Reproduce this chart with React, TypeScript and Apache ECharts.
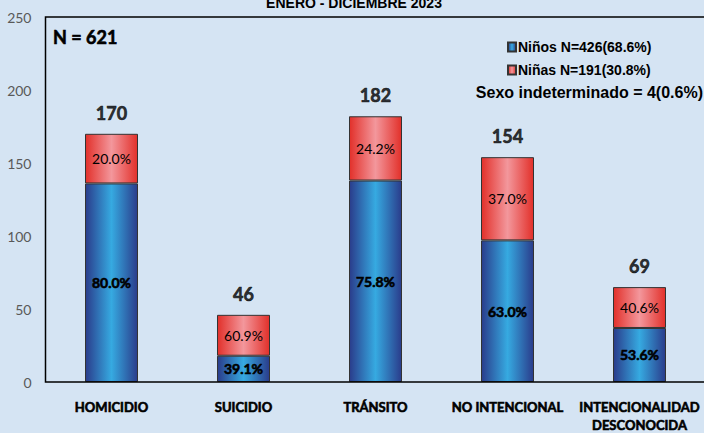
import React, { useEffect, useRef } from "react";
import * as echarts from "echarts";

const categories = ["HOMICIDIO", "SUICIDIO", "TRÁNSITO", "NO INTENCIONAL", "INTENCIONALIDAD\nDESCONOCIDA"];
const ninos = [136, 18, 138, 97, 37];
const ninas = [34, 28, 44, 57, 28];
const totals = [170, 46, 182, 154, 69];
const ninosPct = ["80.0%", "39.1%", "75.8%", "63.0%", "53.6%"];
const ninasPct = ["20.0%", "60.9%", "24.2%", "37.0%", "40.6%"];
const yTicks = { min: 0, max: 250, interval: 50 };

const NARROW = "Lato, 'DejaVu Sans Condensed', sans-serif";
const ARIAL = "'Liberation Sans', Arial, sans-serif";
const heavy = { textBorderColor: "#000", textBorderWidth: 0.6 };

export default function App() {
  const ref = useRef<HTMLDivElement>(null);
  useEffect(() => {
    const chart = echarts.init(ref.current!, null, { renderer: "svg" });
    const blue = new echarts.graphic.LinearGradient(0, 0, 1, 0, [
      { offset: 0, color: "#2a3c8b" },
      { offset: 0.5, color: "#36aae1" },
      { offset: 1, color: "#2a3c8b" },
    ]);
    const red = new echarts.graphic.LinearGradient(0, 0, 1, 0, [
      { offset: 0, color: "#e2302a" },
      { offset: 0.5, color: "#f3979c" },
      { offset: 1, color: "#e2302a" },
    ]);
    const stackTop = ninos.map((v, i) => v + ninas[i]);
    chart.setOption({
      animation: false,
      backgroundColor: "#d5e4f3",
      title: {
        text: "ENERO - DICIEMBRE 2023",
        left: 349,
        textAlign: "center",
        top: -9,
        textStyle: { fontFamily: ARIAL, fontWeight: "bold", fontSize: 14, color: "#000" },
      },
      legend: {
        orient: "vertical",
        left: 502,
        top: 35,
        itemWidth: 8,
        itemHeight: 9,
        itemGap: 9,
        icon: "rect",
        data: ["Niños N=426(68.6%)", "Niñas N=191(30.8%)"],
        textStyle: { fontFamily: ARIAL, fontWeight: "bold", fontSize: 14, color: "#000", padding: [0, 0, 0, -3] },
      },
      graphic: [
        {
          type: "rect",
          shape: { x: 45.5, y: 17, width: 700, height: 365 },
          style: { fill: "none", stroke: "#000", lineWidth: 1.5 },
          silent: true,
          z: 10,
        },
        {
          type: "text",
          x: 53,
          y: 37,
          style: {
            text: "N = 621",
            fontFamily: NARROW,
            fontWeight: "bold",
            fontSize: 18,
            fill: "#000",
            stroke: "#000",
            lineWidth: 0.6,
            textVerticalAlign: "middle",
          },
        },
        {
          type: "text",
          x: 703,
          y: 92,
          style: {
            text: "Sexo indeterminado = 4(0.6%)",
            fontFamily: ARIAL,
            fontWeight: "bold",
            fontSize: 16,
            fill: "#000",
            textAlign: "right",
            textVerticalAlign: "middle",
          },
        },
      ],
      grid: { left: 45.5, top: 17, width: 660, height: 365, outerBoundsMode: "none", containLabel: false },
      xAxis: {
        type: "category",
        data: categories,
        axisLine: { show: false },
        axisTick: { show: false },
        axisLabel: {
          interval: 0,
          margin: 16,
          fontFamily: NARROW,
          fontWeight: "bold",
          fontSize: 13,
          color: "#000",
          lineHeight: 18,
          ...heavy,
        },
      },
      yAxis: {
        type: "value",
        min: yTicks.min,
        max: yTicks.max,
        interval: yTicks.interval,
        axisLine: { show: false },
        axisTick: { show: false },
        splitLine: { show: false },
        axisLabel: { fontFamily: NARROW, fontSize: 14, color: "#595959", margin: 14 },
      },
      series: [
        {
          name: "Niños N=426(68.6%)",
          type: "bar",
          stack: "s",
          barWidth: 53,
          data: ninos,
          itemStyle: { color: blue, borderColor: "#333", borderWidth: 1 },
          label: {
            show: true,
            position: "inside",
            formatter: (p: any) => ninosPct[p.dataIndex],
            fontFamily: NARROW,
            fontWeight: "bold",
            fontSize: 14,
            color: "#000",
            ...heavy,
          },
        },
        {
          name: "Niñas N=191(30.8%)",
          type: "bar",
          stack: "s",
          barWidth: 53,
          data: ninas,
          itemStyle: { color: red, borderColor: "#333", borderWidth: 1 },
          label: {
            show: true,
            position: "inside",
            formatter: (p: any) => ninasPct[p.dataIndex],
            fontFamily: NARROW,
            fontSize: 14,
            color: "#000",
            textBorderWidth: 0,
          },
        },
        {
          name: "total",
          type: "scatter",
          data: stackTop,
          symbolSize: 0,
          itemStyle: { color: "transparent" },
          label: {
            show: true,
            position: "top",
            distance: 12,
            formatter: (p: any) => String(totals[p.dataIndex]),
            fontFamily: NARROW,
            fontWeight: "bold",
            fontSize: 18,
            color: "#000",
            ...heavy,
          },
          z: 5,
        },
      ],
    });
    return () => chart.dispose();
  }, []);
  return <div ref={ref} style={{ position: "fixed", left: 0, top: 0, width: 704, height: 433 }} />;
}
